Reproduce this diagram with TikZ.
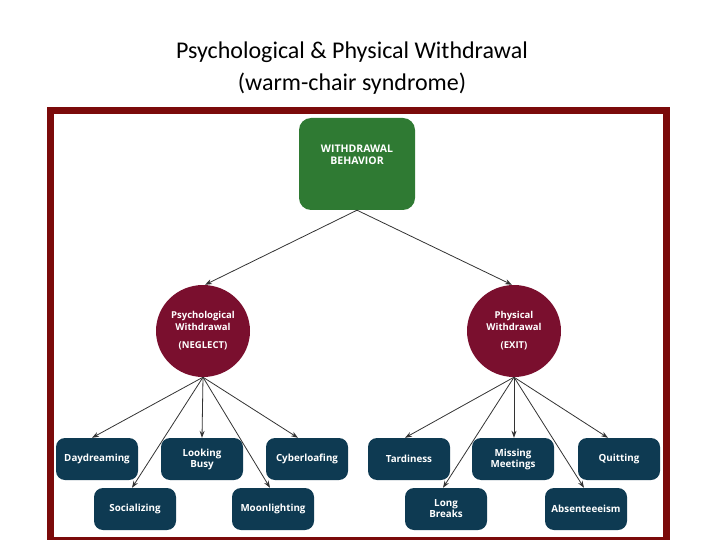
\documentclass[tikz,border=0pt]{standalone}
\usepackage{fontspec}
\setmainfont{Carlito}
\newfontfamily\boxfont{Open Sans}
\usetikzlibrary{arrows.meta,shapes.geometric}
\definecolor{frame}{HTML}{7B0A0A}
\definecolor{grn}{HTML}{2F7A33}
\definecolor{mar}{HTML}{7A0F2E}
\definecolor{teal}{HTML}{0E3A52}
\begin{document}
\begin{tikzpicture}[x=1pt,y=-1pt,
  leaf/.style={fill=teal,rounded corners=9pt,minimum width=82pt,minimum height=42pt,text=white,font=\boxfont\bfseries\fontsize{9.8}{11}\selectfont,align=center,inner sep=1pt},
  circ/.style={ellipse,fill=mar,minimum width=94pt,minimum height=92pt,text=white,font=\boxfont\bfseries\fontsize{9.5}{12}\selectfont,align=center,inner sep=0pt},
  arr/.style={-{Stealth[length=7pt,width=5pt]},draw=black!80,line width=0.8pt}]
\useasboundingbox (0,0) rectangle (720,540);
\node[font=\fontsize{24}{32}\selectfont,align=center] (title) at (352,68) {Psychological \& Physical Withdrawal\\(warm-chair syndrome)};
\draw[frame,line width=7pt] (50.5,110.5) rectangle (666.5,540);
\node[fill=grn,rounded corners=12pt,minimum width=116pt,minimum height=92pt,text=white,font=\boxfont\bfseries\fontsize{10.5}{12.5}\selectfont,align=center] (root) at (357,164) {WITHDRAWAL\\BEHAVIOR\\[6pt]};
\node[circ] (psy) at (203,331) {Psychological\\Withdrawal\\[6pt](NEGLECT)};
\node[circ] (phy) at (514,331) {Physical\\Withdrawal\\[6pt](EXIT)};
\node[leaf] (day) at (97,459) {Daydreaming};
\node[leaf] (busy) at (202,459) {Looking\\Busy};
\node[leaf] (cyb) at (307,459) {Cyberloafing};
\node[leaf] (tar) at (409,459) {Tardiness};
\node[leaf] (mis) at (513,459) {Missing\\Meetings};
\node[leaf] (qui) at (619,459) {Quitting};
\node[leaf] (soc) at (135,509) {Socializing};
\node[leaf] (moo) at (273,509) {Moonlighting};
\node[leaf] (lon) at (446,509) {Long\\Breaks};
\node[leaf] (abs) at (586,509) {Absenteeeism};
\draw[arr] (root.south) -- ([xshift=2pt]psy.north);
\draw[arr] (root.south) -- ([xshift=-2pt]phy.north);
\foreach \t/\d in {day/-5,busy/0,cyb/-9,soc/-3,moo/-3}
  \draw[arr] (psy.south) -- ([xshift=\d pt]\t.north);
\foreach \t/\d in {tar/-4,mis/1,qui/-11,lon/-3,abs/-2}
  \draw[arr] (phy.south) -- ([xshift=\d pt]\t.north);
\end{tikzpicture}
\end{document}
